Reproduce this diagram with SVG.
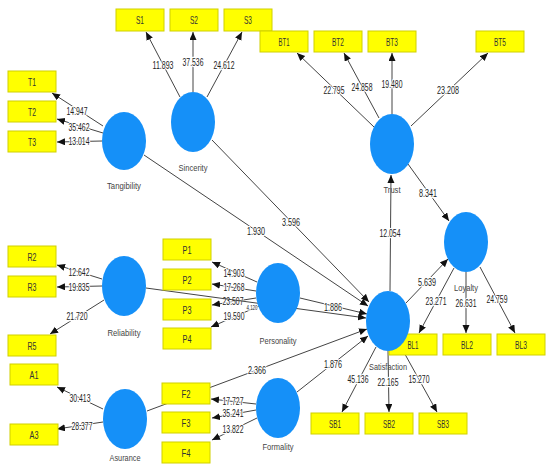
<svg xmlns="http://www.w3.org/2000/svg" width="550" height="473" viewBox="0 0 550 473">
<style>
.bx{fill:#ffff00;stroke:#d0d000;stroke-width:1}
.el{fill:#1590f8}
.bt{font-family:"Liberation Sans",Arial,sans-serif;font-size:11px;fill:#333;text-anchor:middle}
.cl{font-family:"Liberation Sans",Arial,sans-serif;font-size:9px;fill:#444;text-anchor:middle}
.ln{stroke:#444;stroke-width:1;fill:none;marker-end:url(#ah)}
.nm{font-family:"Liberation Sans",Arial,sans-serif;font-size:11px;fill:#222;text-anchor:middle;paint-order:stroke;stroke:#fff;stroke-width:2.5px;stroke-linejoin:round}
</style>
<defs>
<marker id="ah" markerUnits="userSpaceOnUse" markerWidth="9" markerHeight="8" refX="8" refY="3.5" orient="auto">
<path d="M0,0 L8,3.5 L0,7 z" fill="#111"/>
</marker>
</defs>
<rect width="550" height="473" fill="#fff"/>
<g id="connectors">
<line class="ln" x1="180" y1="97" x2="146" y2="32"/>
<line class="ln" x1="193" y1="92" x2="193" y2="32"/>
<line class="ln" x1="207" y1="97" x2="242" y2="32"/>
<line class="ln" x1="103" y1="126" x2="52" y2="93"/>
<line class="ln" x1="103" y1="133" x2="57" y2="119"/>
<line class="ln" x1="102" y1="141" x2="57" y2="142"/>
<line class="ln" x1="374" y1="127" x2="297" y2="53"/>
<line class="ln" x1="379" y1="118" x2="344" y2="53"/>
<line class="ln" x1="392" y1="114" x2="392" y2="53"/>
<line class="ln" x1="411" y1="126" x2="488" y2="53"/>
<line class="ln" x1="408" y1="164" x2="449" y2="221"/>
<line class="ln" x1="390" y1="291" x2="391" y2="175"/>
<line class="ln" x1="406" y1="303" x2="448" y2="259"/>
<line class="ln" x1="454" y1="268" x2="419" y2="333"/>
<line class="ln" x1="466" y1="272" x2="466" y2="333"/>
<line class="ln" x1="480" y1="267" x2="515" y2="333"/>
<line class="ln" x1="376" y1="347" x2="342" y2="412"/>
<line class="ln" x1="388" y1="351" x2="389" y2="412"/>
<line class="ln" x1="401" y1="347" x2="437" y2="412"/>
<line class="ln" x1="144" y1="155" x2="368" y2="306"/>
<line class="ln" x1="212" y1="140" x2="369" y2="302"/>
<line class="ln" x1="300" y1="298" x2="367" y2="314"/>
<line class="ln" x1="147" y1="411" x2="367" y2="329"/>
<line class="ln" x1="297" y1="392" x2="368" y2="336"/>
<line class="ln" x1="257" y1="282" x2="212" y2="262"/>
<line class="ln" x1="256" y1="291" x2="212" y2="284"/>
<line class="ln" x1="256" y1="298" x2="212" y2="305"/>
<line class="ln" x1="259" y1="306" x2="211" y2="327"/>
<line class="ln" x1="256" y1="404" x2="211" y2="399"/>
<line class="ln" x1="256" y1="410" x2="212" y2="418"/>
<line class="ln" x1="257" y1="418" x2="212" y2="440"/>
<line class="ln" x1="102" y1="279" x2="57" y2="265"/>
<line class="ln" x1="102" y1="286" x2="57" y2="287"/>
<line class="ln" x1="104" y1="300" x2="50" y2="334"/>
<line class="ln" x1="103" y1="409" x2="57" y2="387"/>
<line class="ln" x1="103" y1="422" x2="57" y2="429"/>
<text class="nm" x="163" y="69" textLength="21" lengthAdjust="spacingAndGlyphs">11.893</text>
<text class="nm" x="193" y="66" textLength="21" lengthAdjust="spacingAndGlyphs">37.536</text>
<text class="nm" x="224" y="69" textLength="21" lengthAdjust="spacingAndGlyphs">24.612</text>
<text class="nm" x="77" y="115" textLength="21" lengthAdjust="spacingAndGlyphs">14.947</text>
<text class="nm" x="79" y="131" textLength="21" lengthAdjust="spacingAndGlyphs">35.462</text>
<text class="nm" x="79" y="145" textLength="21" lengthAdjust="spacingAndGlyphs">13.014</text>
<text class="nm" x="334" y="94" textLength="21" lengthAdjust="spacingAndGlyphs">22.795</text>
<text class="nm" x="362" y="91" textLength="21" lengthAdjust="spacingAndGlyphs">24.858</text>
<text class="nm" x="392" y="88" textLength="21" lengthAdjust="spacingAndGlyphs">19.480</text>
<text class="nm" x="448" y="94" textLength="22" lengthAdjust="spacingAndGlyphs">23.208</text>
<text class="nm" x="428" y="197" textLength="18" lengthAdjust="spacingAndGlyphs">8.341</text>
<text class="nm" x="390" y="237" textLength="21" lengthAdjust="spacingAndGlyphs">12.054</text>
<text class="nm" x="427" y="286" textLength="18" lengthAdjust="spacingAndGlyphs">5.639</text>
<text class="nm" x="436" y="305" textLength="21" lengthAdjust="spacingAndGlyphs">23.271</text>
<text class="nm" x="466" y="307" textLength="21" lengthAdjust="spacingAndGlyphs">26.631</text>
<text class="nm" x="497" y="303" textLength="21" lengthAdjust="spacingAndGlyphs">24.759</text>
<text class="nm" x="358" y="383" textLength="21" lengthAdjust="spacingAndGlyphs">45.136</text>
<text class="nm" x="388" y="386" textLength="21" lengthAdjust="spacingAndGlyphs">22.165</text>
<text class="nm" x="419" y="383" textLength="21" lengthAdjust="spacingAndGlyphs">15.270</text>
<text class="nm" x="256" y="235" textLength="18" lengthAdjust="spacingAndGlyphs">1.930</text>
<text class="nm" x="291" y="226" textLength="18" lengthAdjust="spacingAndGlyphs">3.596</text>
<text class="nm" x="333" y="311" textLength="18" lengthAdjust="spacingAndGlyphs">1.886</text>
<text class="nm" x="257" y="374" textLength="18" lengthAdjust="spacingAndGlyphs">2.366</text>
<text class="nm" x="333" y="368" textLength="18" lengthAdjust="spacingAndGlyphs">1.876</text>
<text class="nm" x="79" y="276" textLength="21" lengthAdjust="spacingAndGlyphs">12.642</text>
<text class="nm" x="79" y="291" textLength="21" lengthAdjust="spacingAndGlyphs">19.835</text>
<text class="nm" x="77" y="320" textLength="21" lengthAdjust="spacingAndGlyphs">21.720</text>
<text class="nm" x="234" y="277" textLength="21" lengthAdjust="spacingAndGlyphs">14.903</text>
<text class="nm" x="234" y="291" textLength="21" lengthAdjust="spacingAndGlyphs">17.268</text>
<text class="nm" x="233" y="305" textLength="21" lengthAdjust="spacingAndGlyphs">23.507</text>
<text class="nm" x="234" y="320" textLength="21" lengthAdjust="spacingAndGlyphs">19.590</text>
<text class="nm" x="233" y="405" textLength="21" lengthAdjust="spacingAndGlyphs">17.727</text>
<text class="nm" x="233" y="417" textLength="21" lengthAdjust="spacingAndGlyphs">35.241</text>
<text class="nm" x="233" y="433" textLength="21" lengthAdjust="spacingAndGlyphs">13.822</text>
<text class="nm" x="80" y="402" textLength="21" lengthAdjust="spacingAndGlyphs">30.413</text>
<text class="nm" x="82" y="430" textLength="21" lengthAdjust="spacingAndGlyphs">28.377</text>
<text class="nm" x="252" y="310" style="font-size:7px;stroke-width:1.5px" textLength="11" lengthAdjust="spacingAndGlyphs">4.120</text>
<line class="ln" x1="146" y1="288" x2="366" y2="318"/>
</g>
<g id="Sincerity"><ellipse class="el" cx="193" cy="122" rx="22" ry="30"/><text class="cl" x="193" y="171" textLength="29" lengthAdjust="spacingAndGlyphs">Sincerity</text></g>
<g id="Tangibility"><ellipse class="el" cx="124" cy="141" rx="22" ry="29"/><text class="cl" x="124" y="189" textLength="34" lengthAdjust="spacingAndGlyphs">Tangibility</text></g>
<g id="Trust"><ellipse class="el" cx="392" cy="144" rx="22" ry="30"/><text class="cl" x="392" y="193" textLength="17" lengthAdjust="spacingAndGlyphs">Trust</text></g>
<g id="Loyalty"><ellipse class="el" cx="466" cy="242" rx="22" ry="30"/><text class="cl" x="466" y="291" textLength="24" lengthAdjust="spacingAndGlyphs">Loyalty</text></g>
<g id="Reliability"><ellipse class="el" cx="124" cy="286" rx="22" ry="30"/><text class="cl" x="124" y="336" textLength="33" lengthAdjust="spacingAndGlyphs">Reliability</text></g>
<g id="Personality"><ellipse class="el" cx="278" cy="293" rx="22" ry="30"/><text class="cl" x="278" y="344" textLength="37" lengthAdjust="spacingAndGlyphs">Personality</text></g>
<g id="Asurance"><ellipse class="el" cx="125" cy="419" rx="22" ry="30"/><text class="cl" x="125" y="461" textLength="31" lengthAdjust="spacingAndGlyphs">Asurance</text></g>
<g id="Formality"><ellipse class="el" cx="278" cy="408" rx="22" ry="30"/><text class="cl" x="278" y="450" textLength="31" lengthAdjust="spacingAndGlyphs">Formality</text></g>
<g id="S1"><rect class="bx" x="116" y="9" width="48" height="22"/><text class="bt" x="140" y="24" textLength="8" lengthAdjust="spacingAndGlyphs">S1</text></g>
<g id="S2"><rect class="bx" x="170" y="9" width="48" height="22"/><text class="bt" x="194" y="24" textLength="8" lengthAdjust="spacingAndGlyphs">S2</text></g>
<g id="S3"><rect class="bx" x="224" y="9" width="48" height="22"/><text class="bt" x="248" y="24" textLength="8" lengthAdjust="spacingAndGlyphs">S3</text></g>
<g id="T1"><rect class="bx" x="8" y="71" width="48" height="21"/><text class="bt" x="32" y="86" textLength="8" lengthAdjust="spacingAndGlyphs">T1</text></g>
<g id="T2"><rect class="bx" x="8" y="101" width="48" height="21"/><text class="bt" x="32" y="116" textLength="8" lengthAdjust="spacingAndGlyphs">T2</text></g>
<g id="T3"><rect class="bx" x="8" y="131" width="48" height="21"/><text class="bt" x="32" y="146" textLength="8" lengthAdjust="spacingAndGlyphs">T3</text></g>
<g id="BT1"><rect class="bx" x="260" y="31" width="48" height="21"/><text class="bt" x="284" y="46" textLength="11" lengthAdjust="spacingAndGlyphs">BT1</text></g>
<g id="BT2"><rect class="bx" x="314" y="31" width="48" height="21"/><text class="bt" x="338" y="46" textLength="12" lengthAdjust="spacingAndGlyphs">BT2</text></g>
<g id="BT3"><rect class="bx" x="368" y="31" width="48" height="21"/><text class="bt" x="392" y="46" textLength="12" lengthAdjust="spacingAndGlyphs">BT3</text></g>
<g id="BT5"><rect class="bx" x="476" y="31" width="48" height="21"/><text class="bt" x="500" y="46" textLength="12" lengthAdjust="spacingAndGlyphs">BT5</text></g>
<g id="R2"><rect class="bx" x="8" y="246" width="48" height="21"/><text class="bt" x="32" y="261" textLength="9" lengthAdjust="spacingAndGlyphs">R2</text></g>
<g id="R3"><rect class="bx" x="8" y="276" width="48" height="21"/><text class="bt" x="32" y="291" textLength="9" lengthAdjust="spacingAndGlyphs">R3</text></g>
<g id="R5"><rect class="bx" x="8" y="335" width="48" height="21"/><text class="bt" x="32" y="350" textLength="9" lengthAdjust="spacingAndGlyphs">R5</text></g>
<g id="P1"><rect class="bx" x="163" y="239" width="48" height="21"/><text class="bt" x="187" y="254" textLength="9" lengthAdjust="spacingAndGlyphs">P1</text></g>
<g id="P2"><rect class="bx" x="163" y="269" width="48" height="21"/><text class="bt" x="187" y="284" textLength="9" lengthAdjust="spacingAndGlyphs">P2</text></g>
<g id="P3"><rect class="bx" x="163" y="299" width="48" height="21"/><text class="bt" x="187" y="314" textLength="9" lengthAdjust="spacingAndGlyphs">P3</text></g>
<g id="P4"><rect class="bx" x="163" y="328" width="48" height="21"/><text class="bt" x="187" y="343" textLength="9" lengthAdjust="spacingAndGlyphs">P4</text></g>
<g id="A1"><rect class="bx" x="10" y="364" width="48" height="21"/><text class="bt" x="34" y="379" textLength="9" lengthAdjust="spacingAndGlyphs">A1</text></g>
<g id="A3"><rect class="bx" x="10" y="424" width="48" height="21"/><text class="bt" x="34" y="439" textLength="9" lengthAdjust="spacingAndGlyphs">A3</text></g>
<g id="F2"><rect class="bx" x="162" y="383" width="48" height="21"/><text class="bt" x="186" y="398" textLength="9" lengthAdjust="spacingAndGlyphs">F2</text></g>
<g id="F3"><rect class="bx" x="162" y="412" width="48" height="21"/><text class="bt" x="186" y="427" textLength="9" lengthAdjust="spacingAndGlyphs">F3</text></g>
<g id="F4"><rect class="bx" x="162" y="442" width="48" height="21"/><text class="bt" x="186" y="457" textLength="9" lengthAdjust="spacingAndGlyphs">F4</text></g>
<g id="BL1"><rect class="bx" x="389" y="334" width="48" height="21"/><text class="bt" x="413" y="349" textLength="11" lengthAdjust="spacingAndGlyphs">BL1</text></g>
<g id="BL2"><rect class="bx" x="443" y="334" width="48" height="21"/><text class="bt" x="467" y="349" textLength="12" lengthAdjust="spacingAndGlyphs">BL2</text></g>
<g id="BL3"><rect class="bx" x="497" y="334" width="48" height="21"/><text class="bt" x="521" y="349" textLength="12" lengthAdjust="spacingAndGlyphs">BL3</text></g>
<g id="SB1"><rect class="bx" x="311" y="413" width="48" height="21"/><text class="bt" x="335" y="428" textLength="12" lengthAdjust="spacingAndGlyphs">SB1</text></g>
<g id="SB2"><rect class="bx" x="365" y="413" width="48" height="21"/><text class="bt" x="389" y="428" textLength="12" lengthAdjust="spacingAndGlyphs">SB2</text></g>
<g id="SB3"><rect class="bx" x="419" y="413" width="48" height="21"/><text class="bt" x="443" y="428" textLength="12" lengthAdjust="spacingAndGlyphs">SB3</text></g>
<g id="Satisfaction"><ellipse class="el" cx="388" cy="321" rx="22" ry="30"/><text class="cl" x="388" y="370" textLength="38" lengthAdjust="spacingAndGlyphs">Satisfaction</text></g>
</svg>
